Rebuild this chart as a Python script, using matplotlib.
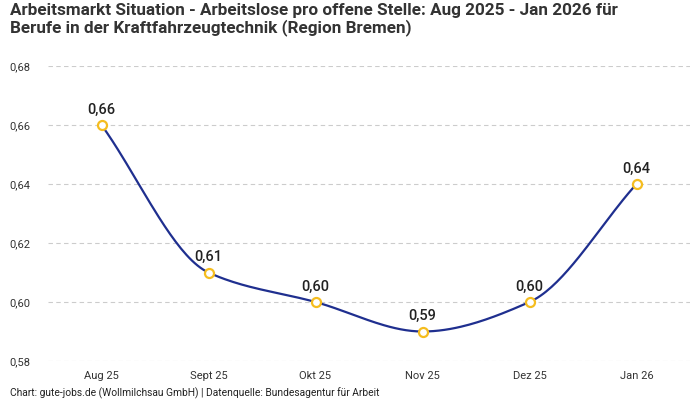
import numpy as np
import matplotlib
matplotlib.use("Agg")
import matplotlib.pyplot as plt

plt.rcParams['font.family'] = ['Roboto', 'DejaVu Sans']

months = ['Aug 25', 'Sept 25', 'Okt 25', 'Nov 25', 'Dez 25', 'Jan 26']
values = [0.66, 0.61, 0.60, 0.59, 0.60, 0.64]
yticks = [0.58, 0.60, 0.62, 0.64, 0.66, 0.68]

title = ('Arbeitsmarkt Situation - Arbeitslose pro offene Stelle: Aug 2025 - Jan 2026 für\n'
         'Berufe in der Kraftfahrzeugtechnik (Region Bremen)')
source = 'Chart: gute-jobs.de (Wollmilchsau GmbH) | Datenquelle: Bundesagentur für Arbeit'


def monotone_curve(x, y, n=40):
    # Fritsch-Carlson monotone cubic, like d3 curveMonotoneX
    x = np.asarray(x, float)
    y = np.asarray(y, float)
    h = np.diff(x)
    d = np.diff(y) / h
    m = np.zeros_like(y)
    m[0], m[-1] = d[0], d[-1]
    for i in range(1, len(y) - 1):
        if d[i - 1] * d[i] <= 0:
            m[i] = 0
        else:
            w1 = 2 * h[i] + h[i - 1]
            w2 = h[i] + 2 * h[i - 1]
            m[i] = (w1 + w2) / (w1 / d[i - 1] + w2 / d[i])
    xs, ys = [], []
    for i in range(len(x) - 1):
        t = np.linspace(0, 1, n)
        h00 = 2 * t**3 - 3 * t**2 + 1
        h10 = t**3 - 2 * t**2 + t
        h01 = -2 * t**3 + 3 * t**2
        h11 = t**3 - t**2
        xs.append(x[i] + t * h[i])
        ys.append(h00 * y[i] + h10 * h[i] * m[i] + h01 * y[i + 1] + h11 * h[i] * m[i + 1])
    return np.concatenate(xs), np.concatenate(ys)


fig = plt.figure(figsize=(7, 4), dpi=100)
ax = fig.add_axes([48 / 700, 1 - 361 / 400, 642 / 700, 295 / 400])

xpos = np.arange(len(months))
cx, cy = monotone_curve(xpos, values)
ax.plot(cx, cy, color='#1f2f8f', lw=1.6, zorder=3)
ax.plot(xpos, values, 'o', ms=6.5, mfc='white', mec='#f5bd1f', mew=1.6, zorder=4)

for xi, v in zip(xpos, values):
    ax.annotate(f'{v:.2f}'.replace('.', ','), (xi, v), xytext=(0, 6), textcoords='offset points',
                ha='center', va='bottom', fontsize=10.5, fontweight='medium', color='#222222')

ax.set_xlim(-0.5, len(months) - 0.5)
ax.set_ylim(0.58, 0.68)
ax.set_yticks(yticks)
ax.set_yticklabels([f'{t:.2f}'.replace('.', ',') for t in yticks])
ax.set_xticks(xpos)
ax.set_xticklabels(months)
ax.tick_params(length=0, labelsize=8, colors='#333333')
ax.tick_params(axis='x', pad=7)
ax.tick_params(axis='y', pad=27.5)
for lbl in ax.get_yticklabels():
    lbl.set_horizontalalignment('left')
ax.grid(axis='y', color='#cccccc', linestyle=(0, (4, 3)), lw=0.8)
for s in ax.spines.values():
    s.set_visible(False)

fig.text(10 / 700, 1 - 3 / 400, title, ha='left', va='top', fontsize=12.3,
         fontweight='bold', color='#333333', linespacing=1.1)
fig.text(10 / 700, 1 - 393 / 400, source, ha='left', va='center', fontsize=7.4, color='#222222')

fig.savefig('out.png', dpi=100)
